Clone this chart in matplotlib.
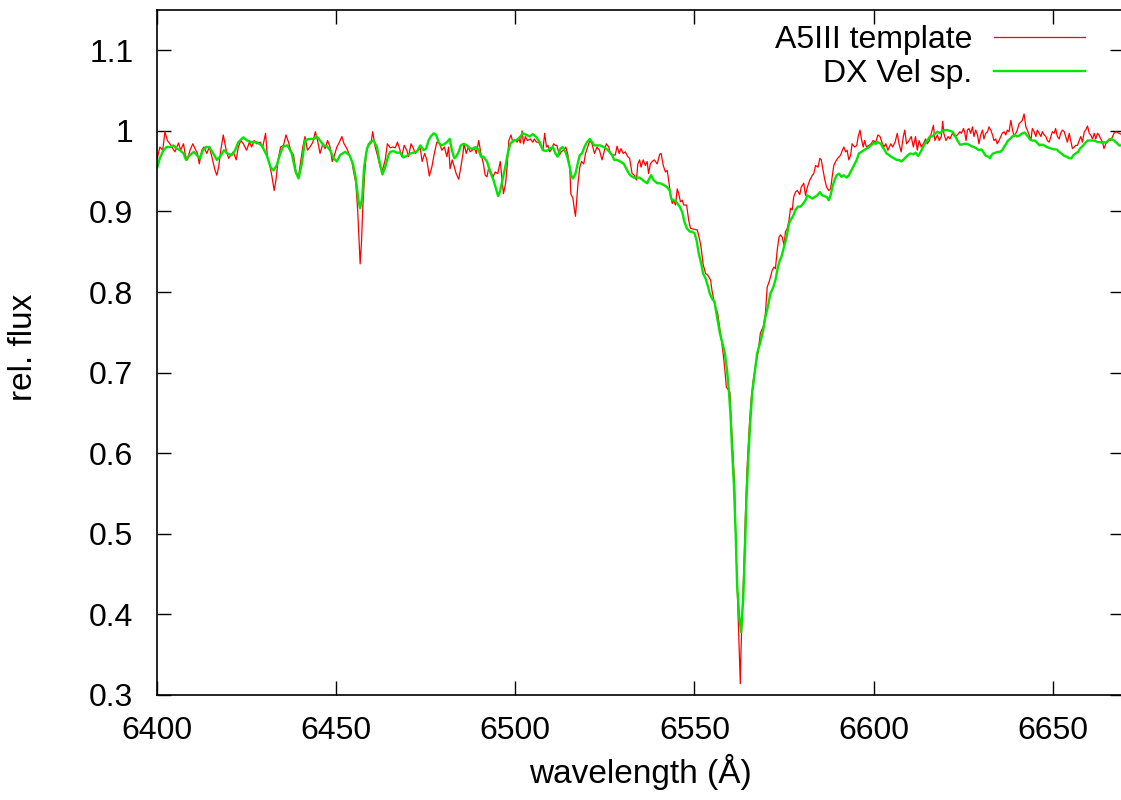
import matplotlib
matplotlib.use("Agg")
from matplotlib import pyplot as plt

# A5III template spectrum (red)
wl_template = [
    6400.1, 6400.8, 6401.6, 6402.2, 6402.9, 6403.6, 6404.4, 6405.0, 6406.0, 6406.6,
    6407.4, 6407.9, 6408.5, 6409.2, 6410.0, 6410.6, 6411.3, 6411.8, 6412.5, 6413.1,
    6413.9, 6414.6, 6415.3, 6416.2, 6416.7, 6417.2, 6417.8, 6418.5, 6419.3, 6420.0,
    6420.6, 6421.3, 6422.1, 6422.7, 6423.4, 6424.1, 6425.0, 6425.8, 6426.4, 6427.1,
    6427.8, 6428.8, 6429.5, 6430.3, 6430.8, 6431.6, 6432.1, 6432.7, 6433.2, 6433.8,
    6434.5, 6435.3, 6436.0, 6436.7, 6437.3, 6438.1, 6438.8, 6439.5, 6440.1, 6440.7,
    6441.3, 6442.0, 6442.7, 6443.5, 6444.2, 6445.0, 6445.5, 6446.3, 6446.9, 6447.6,
    6448.3, 6448.9, 6449.4, 6450.2, 6450.9, 6451.6, 6452.2, 6453.0, 6453.7, 6454.4,
    6454.8, 6455.5, 6456.0, 6456.4, 6456.7, 6457.1, 6457.4, 6457.9, 6458.4, 6459.0,
    6459.7, 6460.2, 6460.9, 6461.5, 6462.3, 6462.9, 6463.7, 6464.3,
    6465.1, 6465.8, 6466.5, 6467.1, 6467.7, 6468.3, 6469.0, 6469.7, 6470.2, 6470.9,
    6471.4, 6472.1, 6472.7, 6473.5, 6474.0, 6474.7, 6475.3, 6476.0, 6476.7, 6477.4,
    6478.1, 6478.9, 6479.5, 6480.2, 6480.9, 6481.4, 6481.8, 6482.4, 6483.0, 6483.5,
    6484.2, 6484.8, 6485.4, 6485.7, 6486.3, 6486.9, 6487.4, 6488.0, 6488.5, 6489.1,
    6489.8, 6490.4, 6491.1, 6491.6, 6492.1, 6492.6, 6493.2, 6493.8, 6494.4, 6495.1,
    6495.8, 6496.3, 6496.7, 6497.3, 6497.7, 6498.2, 6498.8, 6499.3, 6499.9, 6500.5,
    6501.0, 6501.4, 6501.9, 6502.3, 6502.8, 6503.4, 6504.2, 6504.9, 6505.3, 6505.9,
    6506.5, 6507.2, 6507.7, 6508.2, 6508.7, 6509.1, 6509.6, 6510.2, 6510.7, 6511.2,
    6511.6, 6512.3, 6512.8, 6513.5, 6514.1, 6514.6, 6515.2, 6515.5, 6516.1, 6516.5,
    6516.8, 6517.0, 6517.5, 6518.0, 6518.5, 6519.1, 6519.6, 6520.2, 6520.8, 6521.4,
    6522.1, 6522.8, 6523.5, 6524.2, 6524.9, 6525.4, 6526.1, 6526.5, 6527.3, 6527.9,
    6528.4, 6529.0, 6529.5, 6530.1, 6530.7, 6531.4, 6531.9, 6532.6, 6533.2, 6533.8,
    6534.2, 6534.7,
    6535.1, 6535.7, 6536.3, 6536.8, 6537.2, 6537.7, 6538.2, 6538.8, 6539.6, 6540.3,
    6540.7, 6541.3, 6541.9, 6542.4, 6542.8, 6543.3, 6543.8, 6544.2, 6544.7, 6545.2,
    6545.6, 6546.1, 6546.6, 6547.0, 6547.8, 6548.4, 6548.9, 6549.8, 6550.8, 6551.5,
    6551.9, 6552.4, 6553.1, 6553.7, 6554.5, 6554.9, 6555.4, 6556.0, 6556.5,
    6557.3, 6558.0, 6558.5, 6558.9, 6559.9, 6560.2, 6560.7, 6561.2, 6561.5, 6561.9,
    6562.2, 6562.5, 6562.8, 6563.0, 6563.3, 6563.8, 6564.2, 6564.7, 6565.3, 6565.8,
    6566.4, 6567.0, 6567.7,
    6568.4, 6569.2, 6569.8, 6570.3, 6571.0, 6571.7, 6572.2, 6572.6, 6573.1, 6573.6,
    6574.0, 6574.5, 6575.0, 6575.4, 6575.9, 6576.4, 6576.8, 6577.3, 6577.7, 6578.2,
    6578.7, 6579.4, 6579.8, 6580.5, 6581.0, 6581.5, 6582.2, 6582.9, 6583.3, 6583.8,
    6584.5, 6585.0, 6585.4, 6585.9, 6586.4, 6586.9, 6587.5, 6588.0, 6588.5, 6588.9,
    6589.4, 6590.0, 6590.8, 6591.3, 6591.7, 6592.2, 6592.6, 6593.1, 6593.6, 6594.0,
    6594.7, 6595.3, 6595.7, 6596.2, 6596.6, 6597.1, 6597.5, 6598.0, 6598.7, 6599.3,
    6599.9, 6600.6, 6601.2, 6601.8, 6602.3, 6602.9, 6603.4, 6604.0, 6604.8, 6605.3,
    6606.0, 6606.6, 6607.1, 6607.7, 6608.3, 6608.7, 6609.2, 6609.9, 6610.5, 6611.1,
    6611.7, 6612.2, 6612.7, 6613.3, 6613.9, 6614.5, 6615.0, 6615.6, 6616.1, 6616.7,
    6617.1, 6617.8, 6618.3, 6618.9, 6619.3, 6619.6, 6620.2, 6620.8, 6621.3, 6622.0,
    6622.6, 6623.4, 6624.1,
    6624.5, 6625.1, 6625.4, 6625.8, 6626.2, 6626.6, 6627.1, 6627.6, 6628.0, 6628.5,
    6629.0, 6629.4, 6629.9, 6630.4, 6630.8, 6631.3, 6631.8, 6632.2, 6632.7, 6633.2,
    6633.6, 6634.1, 6634.5, 6635.0, 6635.5, 6635.9, 6636.4, 6636.9, 6637.3, 6637.8,
    6638.3, 6638.7, 6639.2, 6639.7, 6640.1, 6640.6, 6641.1, 6641.5, 6642.0, 6642.5,
    6642.9, 6643.4, 6643.9, 6644.3, 6644.8, 6645.3, 6645.7, 6646.2, 6646.7, 6647.1,
    6647.6, 6648.1, 6648.5, 6649.0, 6649.5, 6649.9, 6650.4, 6650.8, 6651.3, 6651.8,
    6652.2, 6652.7, 6653.2, 6653.6, 6654.1, 6654.6, 6655.0, 6655.5, 6656.0, 6656.4,
    6656.9, 6657.4, 6657.8, 6658.3, 6658.8, 6659.2, 6659.7, 6660.2, 6660.6, 6661.1,
    6661.6, 6662.0, 6662.5, 6662.9, 6663.4, 6663.9, 6664.3, 6664.8, 6665.3, 6665.7,
    6666.2, 6666.7, 6667.1, 6667.6, 6668.1, 6668.5, 6669.0,
]
flux_template = [
    0.966, 0.980, 0.976, 0.999, 0.988, 0.984, 0.978, 0.974, 0.985, 0.976,
    0.984, 0.970, 0.964, 0.976, 0.984, 0.978, 0.972, 0.959, 0.976, 0.980,
    0.972, 0.980, 0.968, 0.951, 0.945, 0.955, 0.976, 0.995, 0.976, 0.966,
    0.970, 0.974, 0.964, 0.980, 0.988, 0.984, 0.976, 0.986, 0.980, 0.988,
    0.984, 0.986, 0.980, 0.997, 0.968, 0.955, 0.943, 0.926, 0.939, 0.964,
    0.980, 0.982, 0.995, 0.986, 0.976, 0.970, 0.949, 0.943, 0.962, 0.980,
    0.993, 0.976, 0.980, 0.986, 0.999, 0.984, 0.972, 0.984, 0.978, 0.988,
    0.980, 0.962, 0.968, 0.980, 0.986, 0.993, 0.984, 0.978, 0.970, 0.962,
    0.951, 0.935, 0.902, 0.864, 0.835, 0.864, 0.902, 0.943, 0.972, 0.984,
    0.984, 0.999, 0.980, 0.970, 0.955, 0.951, 0.964, 0.984,
    0.979, 0.980, 0.979, 0.986, 0.978, 0.968, 0.982, 0.976, 0.968, 0.984,
    0.980, 0.972, 0.976, 0.978, 0.962, 0.972, 0.964, 0.944, 0.955, 0.972,
    0.986, 0.984, 0.976, 0.980, 0.968, 0.980, 0.953, 0.964, 0.955, 0.947,
    0.940, 0.955, 0.972, 0.984, 0.972, 0.980, 0.974, 0.976, 0.980, 0.972,
    0.988, 0.972, 0.959, 0.945, 0.943, 0.955, 0.949, 0.943, 0.949, 0.947,
    0.962, 0.939, 0.922, 0.935, 0.955, 0.988, 0.995, 0.986, 0.989, 0.986,
    0.990, 0.985, 1.000, 0.984, 0.993, 0.988, 0.990, 0.986, 0.990, 0.986,
    0.986, 0.980, 0.976, 0.997, 0.980, 0.982, 0.974, 0.978, 0.984, 0.982,
    0.982, 0.970, 0.974, 0.976, 0.980, 0.972, 0.955, 0.922, 0.916, 0.902,
    0.894, 0.906, 0.935, 0.955, 0.962, 0.959, 0.972, 0.980, 0.988, 0.984,
    0.972, 0.980, 0.976, 0.964, 0.976, 0.984, 0.980, 0.972, 0.970, 0.970,
    0.981, 0.972, 0.978, 0.972, 0.974, 0.968, 0.966, 0.947, 0.945, 0.939,
    0.959, 0.964,
    0.955, 0.964, 0.957, 0.962, 0.947, 0.959, 0.962, 0.964, 0.959, 0.971,
    0.972, 0.957, 0.949, 0.951, 0.939, 0.922, 0.910, 0.914, 0.908, 0.928,
    0.922, 0.912, 0.914, 0.908, 0.908, 0.889, 0.879, 0.878, 0.877, 0.864,
    0.854, 0.835, 0.823, 0.821, 0.815, 0.802, 0.790, 0.780, 0.773,
    0.748, 0.724, 0.703, 0.682, 0.676, 0.645, 0.604, 0.562, 0.500, 0.438,
    0.397, 0.356, 0.314, 0.356, 0.397, 0.459, 0.521, 0.583, 0.633, 0.666,
    0.690, 0.707, 0.724,
    0.749, 0.757, 0.773, 0.806, 0.815, 0.827, 0.831, 0.829, 0.852, 0.868,
    0.871, 0.868, 0.858, 0.875, 0.879, 0.889, 0.904, 0.902, 0.918, 0.924,
    0.926, 0.921, 0.930, 0.935, 0.920, 0.930, 0.939, 0.945, 0.947, 0.957,
    0.955, 0.966, 0.964, 0.951, 0.939, 0.930, 0.926, 0.928, 0.945, 0.957,
    0.962, 0.966, 0.970, 0.976, 0.980, 0.974, 0.976, 0.964, 0.970, 0.984,
    0.980, 0.982, 0.993, 1.001, 0.990, 0.980, 0.988, 0.980, 0.982, 0.984,
    0.988, 0.986, 0.995, 0.993, 0.986, 0.980, 0.984, 0.976, 0.984, 0.980,
    0.986, 0.997, 0.984, 0.974, 0.993, 1.001, 0.984, 0.988, 0.993, 0.980,
    0.993, 0.976, 0.988, 0.980, 0.984, 0.990, 0.984, 0.988, 0.997, 1.007,
    0.988, 0.995, 0.988, 0.993, 1.012, 0.997, 0.988, 0.993, 0.990, 0.997,
    0.993, 0.995, 0.999,
    0.997, 1.003, 0.999, 0.988, 1.001, 1.003, 0.997, 1.005, 0.993, 1.001,
    0.995, 0.984, 0.995, 1.001, 0.990, 0.997, 0.999, 1.005, 1.001, 0.995,
    0.988, 0.990, 0.984, 0.988, 0.993, 0.997, 0.999, 0.995, 1.001, 0.999,
    1.013, 1.003, 0.993, 0.997, 1.001, 1.009, 1.011, 1.013, 1.021, 1.005,
    1.001, 0.995, 0.988, 1.003, 0.999, 0.993, 1.001, 0.997, 0.993, 0.999,
    0.995, 0.993, 0.988, 0.986, 0.993, 0.999, 0.997, 1.003, 0.993, 0.990,
    0.997, 1.001, 0.999, 0.993, 0.986, 0.997, 0.988, 0.978, 0.980, 0.982,
    0.982, 0.988, 0.993, 0.986, 0.999, 1.001, 1.006, 0.997, 0.995, 0.990,
    0.997, 0.990, 0.997, 0.995, 0.990, 0.986, 0.978, 0.984, 0.986, 0.990,
    0.988, 0.993, 0.997, 0.999, 0.998, 0.997, 0.996,
]

# DX Vel spectrum (green)
wl_dxvel = [
    6400.1, 6400.8, 6401.8, 6402.7, 6403.6, 6404.6, 6405.5, 6406.4, 6407.4, 6408.1,
    6408.7, 6409.7, 6410.3, 6411.1, 6412.0, 6412.8, 6413.7, 6414.6, 6415.7, 6416.7,
    6417.6, 6418.7, 6419.6, 6420.9, 6421.8, 6422.7, 6424.1, 6425.2, 6426.4, 6427.8,
    6429.2, 6430.6, 6431.7, 6432.5, 6433.4, 6434.4, 6435.3, 6436.4, 6437.6, 6438.7,
    6439.5, 6440.4, 6441.3, 6442.3, 6443.7, 6444.6, 6445.5, 6446.5, 6447.4, 6448.3,
    6449.3, 6450.2, 6451.1, 6452.5, 6453.7, 6454.7, 6455.5, 6456.2, 6456.7, 6457.3,
    6457.8, 6458.6, 6459.5, 6460.4, 6461.4, 6462.1, 6462.9, 6463.7, 6464.6,
    6465.1, 6466.0, 6466.9, 6467.9, 6468.8, 6469.7, 6470.7, 6471.6, 6472.5, 6473.5,
    6474.4, 6475.1, 6475.8, 6476.4, 6477.2, 6477.9, 6478.6, 6479.2, 6480.0, 6480.9,
    6481.7, 6482.3, 6483.0, 6483.5, 6484.2, 6484.8, 6485.6, 6486.5, 6487.4, 6488.4,
    6489.1, 6489.8, 6490.4, 6491.1, 6492.1, 6493.0, 6493.9, 6494.7, 6495.2, 6495.8,
    6496.5, 6497.2, 6497.9, 6498.6, 6499.5, 6500.5, 6501.4, 6502.1, 6503.1, 6504.0,
    6504.9, 6505.9, 6506.8, 6507.7, 6508.7, 6509.6, 6510.5, 6511.2, 6511.8, 6512.6,
    6513.2, 6514.0, 6514.6, 6515.2, 6515.6, 6516.1, 6516.8, 6517.4, 6518.0, 6518.6,
    6519.3, 6520.0, 6520.8, 6521.4, 6522.1, 6522.8, 6523.7, 6524.7, 6525.6, 6526.3,
    6527.0, 6527.6, 6528.4, 6529.3, 6530.3, 6531.0, 6531.7, 6532.3, 6533.1, 6534.0,
    6534.7,
    6535.8, 6536.8, 6537.2, 6537.9, 6538.6, 6539.6, 6540.5, 6541.4, 6542.4, 6543.1,
    6543.5, 6544.0, 6544.7, 6545.2, 6545.9, 6546.6, 6547.2, 6547.9, 6548.7, 6549.3,
    6550.0, 6550.6, 6551.2, 6551.9, 6552.4, 6553.1, 6553.7, 6554.3, 6554.9, 6555.6,
    6556.3, 6557.1,
    6558.5, 6559.1, 6559.6, 6560.1, 6560.5, 6561.0, 6561.5, 6561.9, 6562.5, 6563.0,
    6563.6, 6564.1, 6564.5, 6565.0, 6565.5, 6566.1, 6566.8, 6567.5,
    6568.4, 6569.2, 6569.8, 6570.5, 6571.2, 6572.0, 6572.6, 6573.3, 6573.8, 6574.3,
    6575.0, 6575.7, 6576.4, 6576.8, 6577.6, 6578.2, 6578.9, 6579.6, 6580.4, 6581.0,
    6581.5, 6582.2, 6582.9, 6583.6, 6584.3, 6585.0, 6585.7, 6586.3, 6586.9, 6587.5,
    6588.0, 6588.5, 6589.1, 6589.7, 6590.3, 6591.0, 6591.7, 6592.5, 6593.1, 6593.8,
    6594.5, 6595.3, 6595.9, 6596.6, 6597.3, 6598.0, 6598.7, 6599.3, 6600.1, 6600.6,
    6601.2, 6602.0, 6602.5, 6603.1, 6603.6, 6604.3, 6604.9, 6605.7, 6606.4, 6607.1,
    6607.7, 6608.3, 6608.9, 6609.6, 6610.3, 6611.1, 6611.7, 6612.4, 6612.9, 6613.6,
    6614.3, 6615.0, 6615.7, 6616.4, 6617.0, 6617.8, 6618.5, 6619.2, 6619.8, 6620.6,
    6621.3, 6622.0, 6622.6, 6623.4, 6624.1,
    6624.7, 6625.2, 6626.0, 6626.6, 6627.3, 6628.0, 6628.8, 6629.4, 6630.1, 6630.6,
    6631.3, 6632.0, 6632.5, 6632.9, 6633.4, 6634.1, 6634.7, 6635.3, 6635.9, 6636.4,
    6637.0, 6637.5, 6638.1, 6638.7, 6639.4, 6640.1, 6640.9, 6641.5, 6642.2, 6642.7,
    6643.1, 6643.7, 6644.3, 6645.0, 6645.7, 6646.3, 6646.8, 6647.6, 6648.3, 6649.0,
    6649.6, 6650.4, 6651.1, 6651.8, 6652.4, 6653.2, 6653.9, 6654.6, 6655.2, 6655.8,
    6656.4, 6657.1, 6657.6, 6658.3, 6658.9, 6659.7, 6660.4, 6661.1, 6661.7, 6662.5,
    6663.2, 6663.9, 6664.3, 6664.8, 6665.5, 6666.2, 6666.7, 6667.1, 6667.9, 6668.5,
    6669.0,
]
flux_dxvel = [
    0.955, 0.966, 0.976, 0.980, 0.980, 0.982, 0.978, 0.976, 0.972, 0.964,
    0.968, 0.972, 0.974, 0.970, 0.966, 0.976, 0.980, 0.980, 0.972, 0.964,
    0.968, 0.976, 0.972, 0.970, 0.976, 0.986, 0.992, 0.988, 0.986, 0.986,
    0.982, 0.970, 0.955, 0.951, 0.957, 0.972, 0.981, 0.982, 0.972, 0.949,
    0.941, 0.959, 0.988, 0.990, 0.990, 0.993, 0.988, 0.982, 0.981, 0.976,
    0.966, 0.962, 0.970, 0.974, 0.970, 0.959, 0.941, 0.914, 0.904, 0.918,
    0.955, 0.978, 0.986, 0.988, 0.980, 0.962, 0.946, 0.955, 0.970,
    0.974, 0.975, 0.973, 0.973, 0.967, 0.969, 0.972, 0.973, 0.974, 0.982,
    0.976, 0.978, 0.988, 0.993, 0.997, 0.995, 0.986, 0.982, 0.983, 0.986,
    0.990, 0.976, 0.966, 0.968, 0.974, 0.982, 0.984, 0.982, 0.978, 0.978,
    0.980, 0.976, 0.968, 0.968, 0.962, 0.949, 0.939, 0.927, 0.919, 0.926,
    0.941, 0.955, 0.972, 0.984, 0.988, 0.989, 0.993, 0.997, 0.995, 0.993,
    0.996, 0.992, 0.986, 0.976, 0.975, 0.978, 0.980, 0.972, 0.968, 0.978,
    0.980, 0.974, 0.966, 0.955, 0.945, 0.941, 0.947, 0.959, 0.970, 0.972,
    0.980, 0.986, 0.990, 0.986, 0.982, 0.982, 0.982, 0.980, 0.977, 0.974,
    0.970, 0.964, 0.964, 0.962, 0.959, 0.953, 0.947, 0.944, 0.942, 0.942,
    0.942,
    0.938, 0.935, 0.939, 0.945, 0.939, 0.935, 0.935, 0.933, 0.930, 0.926,
    0.916, 0.914, 0.913, 0.910, 0.906, 0.899, 0.887, 0.879, 0.875, 0.875,
    0.873, 0.864, 0.848, 0.835, 0.823, 0.817, 0.808, 0.798, 0.792, 0.788,
    0.769, 0.749,
    0.724, 0.703, 0.678, 0.645, 0.604, 0.562, 0.500, 0.438, 0.397, 0.378,
    0.418, 0.480, 0.542, 0.591, 0.633, 0.674, 0.699, 0.724,
    0.738, 0.753, 0.769, 0.782, 0.798, 0.806, 0.815, 0.831, 0.839, 0.844,
    0.856, 0.868, 0.885, 0.889, 0.895, 0.902, 0.906, 0.906, 0.910, 0.914,
    0.920, 0.918, 0.916, 0.918, 0.920, 0.924, 0.920, 0.919, 0.918, 0.914,
    0.920, 0.930, 0.939, 0.945, 0.947, 0.943, 0.945, 0.942, 0.945, 0.951,
    0.957, 0.964, 0.972, 0.974, 0.976, 0.978, 0.980, 0.982, 0.985, 0.984,
    0.986, 0.984, 0.980, 0.976, 0.972, 0.970, 0.968, 0.966, 0.964, 0.964,
    0.962, 0.964, 0.967, 0.970, 0.972, 0.971, 0.973, 0.969, 0.972, 0.978,
    0.984, 0.988, 0.993, 0.993, 0.996, 0.999, 0.997, 1.000, 1.001, 1.001,
    1.000, 0.999, 0.995, 0.988, 0.983,
    0.983, 0.984, 0.984, 0.983, 0.981, 0.980, 0.978, 0.976, 0.977, 0.974,
    0.969, 0.968, 0.966, 0.970, 0.972, 0.973, 0.974, 0.974, 0.976, 0.980,
    0.984, 0.988, 0.990, 0.993, 0.995, 0.993, 0.995, 0.997, 0.998, 0.995,
    0.993, 0.989, 0.988, 0.988, 0.985, 0.982, 0.983, 0.982, 0.980, 0.979,
    0.978, 0.977, 0.977, 0.974, 0.972, 0.969, 0.968, 0.966, 0.966, 0.970,
    0.972, 0.974, 0.978, 0.981, 0.984, 0.988, 0.988, 0.988, 0.988, 0.986,
    0.986, 0.985, 0.986, 0.985, 0.988, 0.990, 0.989, 0.988, 0.985, 0.982,
    0.982,
]

plt.rcParams['font.family'] = ['Liberation Sans', 'DejaVu Sans']

fig = plt.figure(figsize=(11.21, 8.0), dpi=100)
# plot frame runs slightly past the right edge of the picture, as in the original
ax = fig.add_axes([157 / 1121, 105 / 800, 967.4 / 1121, 685 / 800])

ax.plot(wl_template, flux_template, color='#ff0000', lw=0.9, label='A5III template')
ax.plot(wl_dxvel, flux_dxvel, color='#00e600', lw=1.7, label='DX Vel sp.')

ax.set_xlim(6400, 6670)
ax.set_ylim(0.3, 1.15)
ax.set_xticks([6400, 6450, 6500, 6550, 6600, 6650])
ax.set_yticks([0.3, 0.4, 0.5, 0.6, 0.7, 0.8, 0.9, 1.0, 1.1])
ax.set_yticklabels(['0.3', '0.4', '0.5', '0.6', '0.7', '0.8', '0.9', '1', '1.1'])

ax.tick_params(direction='in', length=10, width=1, top=True, right=True, labelsize=23)
ax.tick_params(axis='x', pad=15)
ax.tick_params(axis='y', pad=17)
for spine in ax.spines.values():
    spine.set_linewidth(1.2)

ax.set_xlabel('wavelength (Å)', fontsize=24)
ax.xaxis.set_label_coords(0.5, -0.086)
ax.set_ylabel('rel. flux', fontsize=24)
ax.yaxis.set_label_coords(-0.122, 0.508)

ax.legend(loc='upper right', bbox_to_anchor=(1085 / 1121, 775 / 800),
          bbox_transform=fig.transFigure, frameon=False, markerfirst=False,
          fontsize=23, handlelength=2.85, handletextpad=0.68, labelspacing=0.12,
          borderpad=0, borderaxespad=0)

fig.savefig('out.png', dpi=100)
